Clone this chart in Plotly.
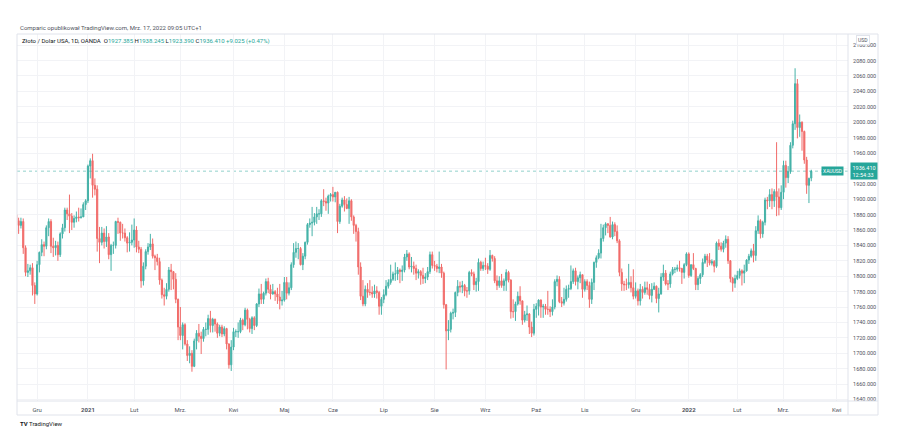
import pandas as pd
import plotly.graph_objects as go

# ---------------- data (XAUUSD, 1D, OANDA) ----------------
holidays = ["2020-12-25", "2021-01-01"]
dates = [d for d in pd.bdate_range("2020-11-18", "2022-03-17").strftime("%Y-%m-%d") if d not in holidays]

opens = [
    # Nov 2020
    1880, 1872, 1866, 1871, 1837, 1805, 1807, 1811, 1788,
    # Dec 2020
    1777, 1815, 1831, 1841, 1839, 1863, 1871, 1839, 1837, 1840, 1828, 1855, 1863, 1886, 1881, 1878, 1870, 1875, 1877, 1876, 1877, 1893,
    # Jan 2021
    1898, 1943, 1950, 1918, 1913, 1849, 1844, 1856, 1845, 1851, 1828, 1840, 1840, 1871, 1870, 1856, 1856, 1850, 1843, 1844,
    # Feb 2021
    1847, 1860, 1838, 1835, 1794, 1813, 1832, 1838, 1842, 1826, 1824, 1819, 1795, 1776, 1774, 1783, 1808, 1806, 1796, 1770,
    # Mar 2021
    1734, 1723, 1737, 1712, 1697, 1700, 1683, 1716, 1726, 1722, 1719, 1731, 1731, 1745, 1736, 1744, 1738, 1726, 1734, 1725, 1732, 1712, 1685,
    # Apr 2021
    1708, 1728, 1728, 1728, 1743, 1737, 1756, 1744, 1732, 1746, 1736, 1764, 1777, 1770, 1778, 1793, 1783, 1777, 1780, 1777, 1773, 1768,
    # May 2021
    1769, 1792, 1778, 1785, 1815, 1831, 1836, 1836, 1815, 1826, 1844, 1867, 1869, 1870, 1877, 1881, 1881, 1898, 1897, 1895, 1904,
    # Jun 2021
    1906, 1903, 1909, 1871, 1891, 1899, 1893, 1888, 1898, 1877, 1866, 1858, 1812, 1774, 1764, 1783, 1779, 1779, 1777, 1781, 1779, 1761,
    # Jul 2021
    1770, 1776, 1787, 1792, 1796, 1803, 1803, 1808, 1806, 1808, 1825, 1829, 1812, 1813, 1810, 1804, 1806, 1801, 1797, 1799, 1806, 1828,
    # Aug 2021
    1814, 1813, 1810, 1812, 1804, 1763, 1729, 1731, 1752, 1753, 1779, 1787, 1786, 1788, 1781, 1781, 1805, 1803, 1789, 1793, 1818, 1810,
    # Sep 2021
    1814, 1813, 1809, 1827, 1823, 1794, 1788, 1794, 1788, 1794, 1805, 1795, 1754, 1754, 1764, 1774, 1768, 1743, 1750, 1751, 1734, 1726,
    # Oct 2021
    1757, 1761, 1769, 1760, 1761, 1757, 1757, 1754, 1760, 1793, 1796, 1767, 1765, 1770, 1783, 1784, 1793, 1807, 1793, 1798, 1802,
    # Nov 2021
    1783, 1793, 1788, 1770, 1792, 1818, 1824, 1830, 1849, 1863, 1868, 1866, 1851, 1867, 1858, 1846, 1805, 1790, 1789, 1789, 1792, 1785,
    # Dec 2021
    1774, 1781, 1768, 1783, 1779, 1785, 1783, 1775, 1783, 1787, 1771, 1777, 1799, 1804, 1790, 1790, 1803, 1809, 1809, 1811, 1810, 1805, 1815,
    # Jan 2022
    1829, 1801, 1815, 1810, 1789, 1797, 1802, 1818, 1826, 1821, 1817, 1819, 1813, 1843, 1839, 1835, 1843, 1848, 1820, 1797, 1791,
    # Feb 2022
    1797, 1801, 1807, 1804, 1807, 1821, 1826, 1833, 1827, 1859, 1872, 1855, 1870, 1899, 1898, 1906, 1898, 1910, 1903, 1889,
    # Mar 2022
    1909, 1944, 1928, 1936, 1970, 1998, 2050, 1993, 2000, 1988, 1951, 1918, 1927.385,
]

highs = [
    1882, 1876, 1876, 1875, 1840, 1816, 1815, 1817, 1792,
    1820, 1832, 1848, 1845, 1866, 1875, 1874, 1850, 1846, 1845, 1857, 1868, 1889, 1889, 1906, 1882, 1879, 1884, 1889, 1888, 1896, 1900,
    1945, 1953, 1959, 1927, 1918, 1864, 1864, 1862, 1865, 1856, 1842, 1845, 1872, 1876, 1871, 1868, 1862, 1852, 1857, 1867,
    1875, 1865, 1846, 1838, 1818, 1835, 1843, 1855, 1849, 1828, 1829, 1824, 1797, 1785, 1791, 1812, 1816, 1806, 1804, 1771,
    1760, 1740, 1739, 1717, 1709, 1704, 1719, 1730, 1738, 1728, 1734, 1740, 1750, 1755, 1746, 1745, 1740, 1737, 1737, 1735, 1733, 1713, 1717,
    1733, 1731, 1740, 1746, 1745, 1759, 1758, 1746, 1748, 1748, 1765, 1784, 1790, 1780, 1797, 1798, 1789, 1790, 1782, 1785, 1790, 1781,
    1799, 1799, 1792, 1818, 1843, 1845, 1843, 1838, 1830, 1845, 1869, 1875, 1890, 1882, 1890, 1887, 1900, 1913, 1902, 1906, 1908,
    1916, 1909, 1910, 1894, 1902, 1904, 1901, 1903, 1900, 1879, 1868, 1863, 1818, 1795, 1788, 1791, 1795, 1787, 1789, 1787, 1781, 1773,
    1783, 1795, 1796, 1815, 1806, 1818, 1812, 1810, 1814, 1829, 1834, 1831, 1825, 1819, 1815, 1809, 1808, 1811, 1804, 1812, 1832, 1832,
    1820, 1816, 1832, 1816, 1806, 1764, 1743, 1754, 1758, 1780, 1795, 1793, 1794, 1790, 1786, 1807, 1809, 1806, 1798, 1823, 1820, 1819,
    1824, 1817, 1834, 1828, 1826, 1801, 1800, 1803, 1797, 1809, 1807, 1796, 1770, 1767, 1780, 1787, 1768, 1755, 1762, 1752, 1741, 1764,
    1765, 1770, 1770, 1764, 1764, 1781, 1761, 1770, 1796, 1801, 1800, 1773, 1785, 1788, 1789, 1814, 1810, 1811, 1801, 1806, 1802,
    1796, 1796, 1793, 1797, 1819, 1827, 1835, 1868, 1867, 1870, 1869, 1877, 1871, 1870, 1866, 1848, 1810, 1794, 1797, 1816, 1800, 1809,
    1792, 1784, 1790, 1787, 1793, 1793, 1790, 1791, 1792, 1788, 1785, 1804, 1815, 1808, 1795, 1806, 1812, 1812, 1815, 1820, 1811, 1817, 1831,
    1831, 1815, 1830, 1811, 1800, 1804, 1823, 1829, 1829, 1830, 1822, 1821, 1845, 1848, 1844, 1846, 1853, 1852, 1821, 1799, 1802,
    1807, 1810, 1809, 1815, 1822, 1829, 1836, 1842, 1865, 1879, 1874, 1872, 1902, 1903, 1913, 1914, 1913, 1974, 1914, 1918,
    1950, 1950, 1943, 1974, 2002, 2070, 2056, 2010, 2001, 1989, 1955, 1928, 1938.245,
]

lows = [
    1864, 1855, 1862, 1829, 1800, 1799, 1802, 1775, 1764,
    1775, 1805, 1826, 1826, 1835, 1852, 1830, 1825, 1827, 1820, 1825, 1849, 1858, 1873, 1856, 1860, 1863, 1870, 1871, 1875, 1877, 1886,
    1895, 1927, 1902, 1905, 1832, 1817, 1840, 1836, 1838, 1822, 1807, 1829, 1836, 1855, 1846, 1849, 1845, 1831, 1832, 1840,
    1837, 1831, 1830, 1785, 1788, 1809, 1828, 1834, 1823, 1808, 1814, 1789, 1771, 1762, 1770, 1780, 1782, 1783, 1765, 1717,
    1717, 1705, 1710, 1690, 1687, 1676, 1682, 1705, 1714, 1699, 1715, 1722, 1724, 1727, 1727, 1728, 1720, 1722, 1721, 1722, 1705, 1680, 1677,
    1704, 1721, 1720, 1726, 1730, 1735, 1731, 1727, 1725, 1730, 1734, 1760, 1764, 1764, 1775, 1778, 1770, 1776, 1768, 1764, 1757, 1762,
    1767, 1770, 1775, 1782, 1811, 1824, 1822, 1814, 1808, 1822, 1841, 1863, 1852, 1866, 1868, 1873, 1877, 1891, 1885, 1881, 1897,
    1897, 1896, 1856, 1868, 1889, 1884, 1887, 1868, 1872, 1855, 1845, 1802, 1769, 1761, 1761, 1772, 1775, 1772, 1772, 1771, 1750, 1750,
    1765, 1774, 1784, 1789, 1794, 1794, 1795, 1791, 1794, 1805, 1820, 1809, 1805, 1802, 1795, 1797, 1789, 1790, 1791, 1795, 1803, 1810,
    1807, 1805, 1804, 1798, 1758, 1679, 1717, 1727, 1744, 1747, 1774, 1779, 1778, 1774, 1772, 1776, 1800, 1782, 1780, 1781, 1807, 1807,
    1808, 1803, 1807, 1819, 1791, 1782, 1785, 1785, 1781, 1781, 1792, 1745, 1746, 1742, 1762, 1763, 1737, 1740, 1742, 1725, 1721, 1723,
    1746, 1749, 1746, 1746, 1750, 1750, 1747, 1749, 1757, 1787, 1765, 1760, 1762, 1767, 1772, 1782, 1790, 1788, 1783, 1791, 1772,
    1780, 1782, 1759, 1764, 1782, 1811, 1822, 1823, 1845, 1853, 1856, 1850, 1848, 1852, 1843, 1800, 1781, 1781, 1782, 1784, 1779, 1770,
    1771, 1762, 1762, 1771, 1776, 1776, 1770, 1766, 1782, 1765, 1753, 1776, 1794, 1788, 1782, 1785, 1801, 1804, 1806, 1806, 1790, 1797, 1813,
    1798, 1799, 1808, 1782, 1782, 1790, 1799, 1816, 1812, 1814, 1814, 1805, 1811, 1834, 1832, 1831, 1837, 1816, 1792, 1780, 1785,
    1795, 1797, 1788, 1791, 1806, 1816, 1824, 1818, 1820, 1855, 1849, 1850, 1866, 1887, 1890, 1887, 1890, 1878, 1879, 1886,
    1900, 1915, 1921, 1933, 1966, 1990, 1979, 1981, 1963, 1946, 1907, 1895, 1923.39,
]

closes = [
    1872, 1866, 1871, 1837, 1805, 1807, 1811, 1788, 1777,
    1815, 1831, 1841, 1839, 1863, 1871, 1839, 1837, 1840, 1828, 1855, 1863, 1886, 1881, 1878, 1870, 1875, 1877, 1876, 1877, 1893, 1898,
    1943, 1950, 1918, 1913, 1849, 1844, 1856, 1845, 1851, 1828, 1840, 1840, 1871, 1870, 1856, 1856, 1850, 1843, 1844, 1847,
    1860, 1838, 1835, 1794, 1813, 1832, 1838, 1842, 1826, 1824, 1819, 1795, 1776, 1774, 1783, 1808, 1806, 1796, 1770, 1734,
    1723, 1737, 1712, 1697, 1700, 1683, 1716, 1726, 1722, 1719, 1731, 1731, 1745, 1736, 1744, 1738, 1726, 1734, 1725, 1732, 1712, 1685, 1708,
    1728, 1728, 1728, 1743, 1737, 1756, 1744, 1732, 1746, 1736, 1764, 1777, 1770, 1778, 1793, 1783, 1777, 1780, 1777, 1773, 1768, 1769,
    1792, 1778, 1785, 1815, 1831, 1836, 1836, 1815, 1826, 1844, 1867, 1869, 1870, 1877, 1881, 1881, 1898, 1897, 1895, 1904, 1906,
    1903, 1909, 1871, 1891, 1899, 1893, 1888, 1898, 1877, 1866, 1858, 1812, 1774, 1764, 1783, 1779, 1779, 1777, 1781, 1779, 1761, 1770,
    1776, 1787, 1792, 1796, 1803, 1803, 1808, 1806, 1808, 1825, 1829, 1812, 1813, 1810, 1804, 1806, 1801, 1797, 1799, 1806, 1828, 1814,
    1813, 1810, 1812, 1804, 1763, 1729, 1731, 1752, 1753, 1779, 1787, 1786, 1788, 1781, 1781, 1805, 1803, 1789, 1793, 1818, 1810, 1814,
    1813, 1809, 1827, 1823, 1794, 1788, 1794, 1788, 1794, 1805, 1795, 1754, 1754, 1764, 1774, 1768, 1743, 1750, 1751, 1734, 1726, 1757,
    1761, 1769, 1760, 1761, 1757, 1757, 1754, 1760, 1793, 1796, 1767, 1765, 1770, 1783, 1784, 1793, 1807, 1793, 1798, 1802, 1783,
    1793, 1788, 1770, 1792, 1818, 1824, 1830, 1849, 1863, 1868, 1866, 1851, 1867, 1858, 1846, 1805, 1790, 1789, 1789, 1792, 1785, 1774,
    1781, 1768, 1783, 1779, 1785, 1783, 1775, 1783, 1787, 1771, 1777, 1799, 1804, 1790, 1790, 1803, 1809, 1809, 1811, 1810, 1805, 1815, 1829,
    1801, 1815, 1810, 1789, 1797, 1802, 1818, 1826, 1821, 1817, 1819, 1813, 1843, 1839, 1835, 1843, 1848, 1820, 1797, 1791, 1797,
    1801, 1807, 1804, 1807, 1821, 1826, 1833, 1827, 1859, 1872, 1855, 1870, 1899, 1898, 1906, 1898, 1910, 1903, 1889, 1909,
    1944, 1928, 1936, 1970, 1998, 2050, 1993, 2000, 1988, 1951, 1918, 1927, 1936.41,
]

tick_dates = ["2020-12-01", "2021-01-04", "2021-02-01", "2021-03-01", "2021-04-01", "2021-05-03",
              "2021-06-01", "2021-07-01", "2021-08-02", "2021-09-01", "2021-10-01", "2021-11-01",
              "2021-12-01", "2022-01-03", "2022-02-01", "2022-03-01", "2022-04-01"]
tick_labels = ["Gru", "<b>2021</b>", "Lut", "Mrz.", "Kwi", "Maj", "Cze", "Lip", "Sie", "Wrz",
               "Paź", "Lis", "Gru", "<b>2022</b>", "Lut", "Mrz.", "Kwi"]

last_price = 1936.41
header_text = "Comparic opublikował TradingView.com, Mrz. 17, 2022 09:05 UTC+1"

# ---------------- build ----------------
UP = "#26a69a"
DOWN = "#ef5350"

# bar index (TradingView spaces bars evenly, skipping non-trading days)
future = [d for d in pd.bdate_range("2022-03-18", "2022-04-15").strftime("%Y-%m-%d")]
all_dates = dates + future
idx = {d: i for i, d in enumerate(all_dates)}
x = list(range(len(dates)))
tickvals = [idx[d] for d in tick_dates]

fig = go.Figure(go.Candlestick(
    x=x, open=opens, high=highs, low=lows, close=closes,
    increasing=dict(line=dict(color=UP, width=1), fillcolor=UP),
    decreasing=dict(line=dict(color=DOWN, width=1), fillcolor=DOWN),
    whiskerwidth=0, hoverinfo="skip", showlegend=False, opacity=0.85,
))

GRID = "#f2f3f6"
BORDER = "#e0e3eb"
TXT = "#50535e"
FONT = "Roboto, Liberation Sans, sans-serif"

L, R, T, B = 17, 49, 34, 41
W, H = 897, 442
pw, ph = W - L - R, H - T - B

def px_x(p):
    return (p - L) / pw

def px_y(p):
    return (H - B - p) / ph

fig.update_layout(
    width=W, height=H,
    margin=dict(l=L, r=R, t=T, b=B),
    paper_bgcolor="white", plot_bgcolor="white",
    font=dict(family=FONT, color=TXT, size=6),
    hovermode=False,
    xaxis=dict(
        range=[0.3, 359.9], rangeslider=dict(visible=False),
        tickmode="array", tickvals=tickvals, ticktext=tick_labels,
        showgrid=True, gridcolor=GRID, gridwidth=1, zeroline=False,
        showline=False, ticks="outside", ticklen=3, tickcolor="rgba(0,0,0,0)",
        tickfont=dict(size=6, color=TXT, family=FONT),
    ),
    yaxis=dict(
        side="right", range=[1638, 2114.5], dtick=20, tick0=1640,
        tickformat=".3f", showgrid=True, gridcolor=GRID, gridwidth=1,
        zeroline=False, showline=False, ticks="outside", ticklen=3,
        tickcolor="rgba(0,0,0,0)",
        tickfont=dict(size=5.5, color=TXT, family=FONT),
    ),
)

shapes = []
# frame lines
def line(x0, y0, x1, y1, color=BORDER, width=1):
    shapes.append(dict(type="line", xref="paper", yref="paper",
                       x0=px_x(x0), y0=px_y(y0), x1=px_x(x1), y1=px_y(y1),
                       line=dict(color=color, width=width), layer="above"))

line(17, 34, 878, 34)
line(17, 34, 17, 415)
line(878, 34, 878, 415)
line(848, 34, 848, 415)
line(17, 401, 878, 401)
line(17, 415, 878, 415)
# last price dotted line
shapes.append(dict(type="line", xref="paper", yref="y", x0=0, x1=1,
                   y0=last_price, y1=last_price,
                   line=dict(color="rgba(38,166,154,0.5)", width=1, dash="dot"),
                   layer="below"))
fig.update_layout(shapes=shapes)

ann = []
ann.append(dict(xref="paper", yref="paper", x=px_x(18), y=px_y(27), xanchor="left",
                yanchor="middle", showarrow=False, text=header_text,
                font=dict(size=6, color=TXT, family=FONT)))
legend_txt = ("Złoto / Dolar USA, 1D, OANDA&nbsp;&nbsp;"
              f"O<span style='color:{UP}'>1927.385</span> "
              f"H<span style='color:{UP}'>1938.245</span> "
              f"L<span style='color:{UP}'>1923.390</span> "
              f"C<span style='color:{UP}'>1936.410</span> "
              f"<span style='color:{UP}'>+9.025 (+0.47%)</span>")
ann.append(dict(xref="paper", yref="paper", x=px_x(20), y=px_y(41), xanchor="left",
                yanchor="middle", showarrow=False, text=legend_txt,
                font=dict(size=6, color="#131722", family=FONT)))
ann.append(dict(xref="paper", yref="paper", x=px_x(862.5), y=px_y(40), xanchor="center",
                yanchor="middle", showarrow=False, text="USD",
                font=dict(size=5, color=TXT, family=FONT),
                bordercolor=BORDER, borderwidth=1, borderpad=1, bgcolor="white"))
ann.append(dict(xref="paper", yref="y", x=px_x(832.5), y=last_price, xanchor="center",
                yanchor="middle", showarrow=False, text="XAUUSD",
                font=dict(size=5, color="white", family=FONT),
                bgcolor=UP, borderpad=1))
ann.append(dict(xref="paper", yref="y", x=px_x(850), y=last_price, xanchor="left",
                yanchor="middle", showarrow=False, text="1936.410<br>12:54:33",
                font=dict(size=5.5, color="white", family=FONT), align="left",
                bgcolor=UP, borderpad=1.5))
ann.append(dict(xref="paper", yref="paper", x=px_x(18), y=px_y(423), xanchor="left",
                yanchor="middle", showarrow=False,
                text="<b>TV</b> TradingView",
                font=dict(size=6, color="#131722", family=FONT)))
fig.update_layout(annotations=ann)

fig.write_html("out.html", config={"displayModeBar": False},
               post_script="document.body.style.margin='0';document.body.style.padding='0';")
